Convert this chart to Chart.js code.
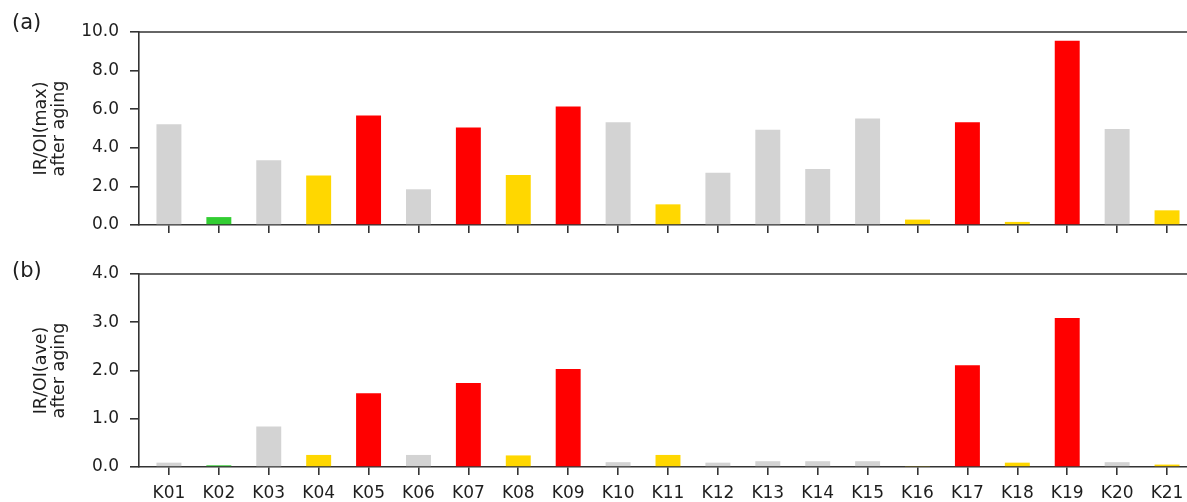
<!DOCTYPE html>
<html>
<head>
<meta charset="utf-8">
<script src="https://cdn.jsdelivr.net/npm/chart.js@4/dist/chart.umd.min.js"></script>
<style>
  html, body { margin: 0; padding: 0; background: #fff; overflow: hidden; }
  #wrap { position: relative; width: 1187px; height: 502px; }
  canvas { position: absolute; left: 0; }
  #panelA { top: 0; }
  #panelB { top: 250px; }
</style>
</head>
<body>
<div id="wrap">
  <canvas id="panelA" width="1187" height="250"></canvas>
  <canvas id="panelB" width="1187" height="252"></canvas>
</div>
<script>
// Samples along the x axis
const samples = ['K01','K02','K03','K04','K05','K06','K07','K08','K09','K10','K11',
                 'K12','K13','K14','K15','K16','K17','K18','K19','K20','K21'];

// IR/OI ratios after aging
const irOiMax = [5.22, 0.41, 3.35, 2.57, 5.67, 1.85, 5.05, 2.59, 6.14, 5.33, 1.07,
                 2.71, 4.93, 2.90, 5.52, 0.28, 5.33, 0.16, 9.55, 4.98, 0.76];
const irOiAve = [0.09, 0.035, 0.84, 0.25, 1.53, 0.25, 1.74, 0.24, 2.03, 0.10, 0.25,
                 0.09, 0.12, 0.12, 0.12, 0.02, 2.11, 0.09, 3.09, 0.10, 0.05];

// Group of each sample (sets the bar colour)
const sampleGroup = ['A','B','A','C','D','A','D','C','D','A','C',
                     'A','A','A','A','C','D','C','D','A','C'];

// Y-axis tick values for each panel
const ticksMax = [0, 2, 4, 6, 8, 10];
const ticksAve = [0, 1, 2, 3, 4];

const groupColor = { A: '#d3d3d3', B: '#32cd32', C: '#ffd700', D: '#ff0000' };
const FONT = '"DejaVu Sans", sans-serif';
const INK = '#1e1e1e';
const AXIS = '#333';

// Top spine and panel letter
const framePlugin = {
  id: 'frame',
  afterDraw(chart, args, opts) {
    const { ctx, chartArea: a } = chart;
    ctx.save();
    ctx.strokeStyle = AXIS;
    ctx.lineWidth = 1.6;
    ctx.beginPath();
    ctx.moveTo(a.left, a.top);
    ctx.lineTo(a.right, a.top);
    ctx.stroke();
    ctx.font = '21px ' + FONT;
    ctx.fillStyle = INK;
    ctx.textAlign = 'left';
    ctx.textBaseline = 'middle';
    ctx.fillText(opts.letter, opts.x, opts.y);
    ctx.restore();
  }
};

function makePanel(id, values, yTicks, yTitle, showXLabels, letter, letterY, padTop, xAxisHeight) {
  const points = values.map((v, i) => ({ x: i, y: v }));
  return new Chart(document.getElementById(id), {
    type: 'bar',
    data: {
      datasets: [{
        data: points,
        backgroundColor: sampleGroup.map(g => groupColor[g]),
        borderWidth: 0,
        barPercentage: 0.5,
        categoryPercentage: 1.0
      }]
    },
    plugins: [framePlugin],
    options: {
      responsive: false,
      animation: false,
      layout: { padding: { top: padTop, left: 0, right: 0, bottom: 0 } },
      plugins: {
        legend: { display: false },
        tooltip: { enabled: false },
        frame: { letter: letter, x: 12, y: letterY }
      },
      scales: {
        x: {
          type: 'linear',
          offset: false,
          min: -0.6,
          max: 20.4,
          afterBuildTicks: s => { s.ticks = samples.map((_, i) => ({ value: i })); },
          afterFit: s => { s.height = xAxisHeight; s.paddingLeft = 0; s.paddingRight = 0; },
          grid: { display: true, offset: false, drawOnChartArea: false, drawTicks: true, tickLength: 8, color: AXIS, lineWidth: 1.6 },
          border: { display: true, color: AXIS, width: 1.6 },
          ticks: {
            display: showXLabels,
            autoSkip: false,
            maxRotation: 0,
            padding: 8,
            color: INK,
            font: { family: FONT, size: 17 },
            callback: v => samples[v]
          }
        },
        y: {
          min: yTicks[0],
          max: yTicks[yTicks.length - 1],
          afterBuildTicks: s => { s.ticks = yTicks.map(v => ({ value: v })); },
          afterFit: s => { s.width = 139; },
          grid: { display: true, drawOnChartArea: false, drawTicks: true, tickLength: 9, color: AXIS, lineWidth: 1.6 },
          border: { display: true, color: AXIS, width: 1.6 },
          ticks: {
            padding: 11,
            color: INK,
            font: { family: FONT, size: 17 },
            callback: v => Number(v).toFixed(1)
          },
          title: {
            display: true,
            text: yTitle,
            color: INK,
            font: { family: FONT, size: 17.5, lineHeight: 1.05 },
            padding: { top: 32, bottom: 0 }
          }
        }
      }
    }
  });
}

makePanel('panelA', irOiMax, ticksMax, ['IR/OI(max)', 'after aging'], false, '(a)', 24, 32, 25);
makePanel('panelB', irOiAve, ticksAve, ['IR/OI(ave)', 'after aging'], true, '(b)', 22, 24, 35);
</script>
</body>
</html>
